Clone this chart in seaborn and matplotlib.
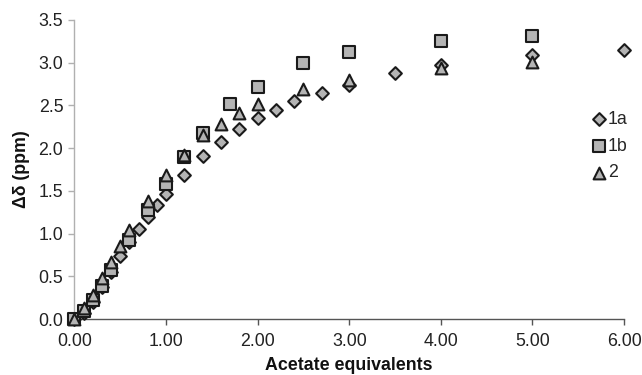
import numpy as np
import pandas as pd
import matplotlib
matplotlib.use("Agg")
import matplotlib.pyplot as plt
import seaborn as sns

# ---- data ----
x_1a = [0.0, 0.1, 0.2, 0.3, 0.4, 0.5, 0.6, 0.7, 0.8, 0.9, 1.0, 1.2, 1.4, 1.6, 1.8, 2.0, 2.2, 2.4, 2.7, 3.0, 3.5, 4.0, 5.0, 6.0]
y_1a = [0.0, 0.07, 0.2, 0.37, 0.55, 0.74, 0.9, 1.05, 1.2, 1.33, 1.46, 1.69, 1.91, 2.07, 2.22, 2.35, 2.45, 2.55, 2.65, 2.74, 2.88, 2.97, 3.09, 3.15]

x_1b = [0.0, 0.1, 0.2, 0.3, 0.4, 0.6, 0.8, 1.0, 1.2, 1.4, 1.7, 2.0, 2.5, 3.0, 4.0, 5.0]
y_1b = [0.0, 0.09, 0.22, 0.39, 0.57, 0.93, 1.28, 1.58, 1.9, 2.18, 2.52, 2.72, 2.99, 3.12, 3.25, 3.31]

x_2 = [0.0, 0.1, 0.2, 0.3, 0.4, 0.5, 0.6, 0.8, 1.0, 1.2, 1.4, 1.6, 1.8, 2.0, 2.5, 3.0, 4.0, 5.0]
y_2 = [0.0, 0.13, 0.28, 0.48, 0.67, 0.85, 1.04, 1.38, 1.69, 1.92, 2.15, 2.28, 2.41, 2.52, 2.69, 2.8, 2.94, 3.01]

series_names = ["1a", "1b", "2"]
x_ticks = [0, 1, 2, 3, 4, 5, 6]
y_ticks = [0.0, 0.5, 1.0, 1.5, 2.0, 2.5, 3.0, 3.5]

df = pd.concat([
    pd.DataFrame({"x": x_1a, "y": y_1a, "series": "1a"}),
    pd.DataFrame({"x": x_1b, "y": y_1b, "series": "1b"}),
    pd.DataFrame({"x": x_2, "y": y_2, "series": "2"}),
], ignore_index=True)

sns.set_style("white")
plt.rcParams["font.family"] = ["Liberation Sans", "DejaVu Sans"]

fig = plt.figure(figsize=(6.42, 3.75), dpi=100)
ax = fig.add_axes([0.116, 0.149, 0.856, 0.798])

markers = {"1a": "D", "1b": "s", "2": "^"}
sizes_pt = {"1a": 42, "1b": 70, "2": 72}
for name in series_names:
    sub = df[df["series"] == name]
    sns.scatterplot(data=sub, x="x", y="y", marker=markers[name], s=sizes_pt[name],
                    color="#b4b4b4", edgecolor="#1a1a1a", linewidth=1.5,
                    ax=ax, label=name, clip_on=False, zorder=3)

ax.set_xlim(0, 6)
ax.set_ylim(0, 3.5)
ax.set_xticks(x_ticks)
ax.set_xticklabels([f"{v:.2f}" for v in x_ticks])
ax.set_yticks(y_ticks)
ax.set_yticklabels([f"{v:.1f}" for v in y_ticks])

fs = 12.8
for s in ["top", "right"]:
    ax.spines[s].set_visible(False)
ax.spines["left"].set_color("#b0b0b0")
ax.spines["bottom"].set_color("#555555")
ax.spines["left"].set_linewidth(1.0)
ax.spines["bottom"].set_linewidth(1.0)
ax.tick_params(axis="x", direction="out", length=4, width=1, color="#555555", labelsize=fs, pad=6, labelcolor="#222222")
ax.tick_params(axis="y", direction="out", length=4, width=1, color="#b0b0b0", labelsize=fs, pad=4, labelcolor="#222222")
ax.tick_params(bottom=True, left=True)

ax.set_xlabel("Acetate equivalents", fontsize=fs, fontweight="bold", labelpad=5, color="#111111")
ax.set_ylabel("Δδ (ppm)", fontsize=fs, fontweight="bold", labelpad=6, color="#111111")

leg = ax.legend(loc="upper left", bbox_to_anchor=(0.925, 0.72), frameon=False,
                fontsize=fs, handletextpad=0.0, labelspacing=0.55, borderaxespad=0,
                handlelength=1.0)

fig.savefig("out.png", dpi=100)
